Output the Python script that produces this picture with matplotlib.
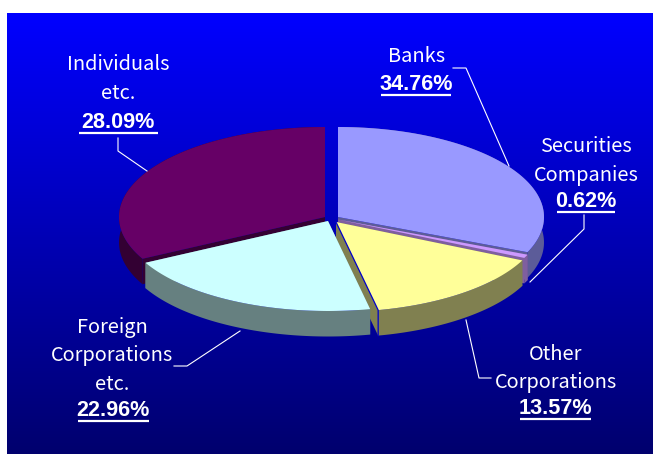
# shareholder breakdown, tilted 3d pie

import matplotlib
matplotlib.use("Agg")
import matplotlib.pyplot as plt
import numpy as np

names = ["Banks", "Securities\nCompanies", "Other\nCorporations", "Foreign\nCorporations\netc.", "Individuals\netc."]
percents = [34.76, 0.62, 13.57, 22.96, 28.09]
# slice sizes as the picture actually draws them, they do not follow the printed percents
drawn_shares = [31.4, 0.62, 14.7, 20.6, 32.68]

top_colors = ["#9999FF", "#CC99FF", "#FFFF99", "#CCFFFF", "#660066"]
side_colors = ["#5C5C99", "#7F5F9F", "#808050", "#668080", "#330033"]
# where each exploded slice has its tip, in picture pixels
tips = [(338, 217), (338, 219.5), (336, 222), (328, 221), (325, 217)]
draw_order = [4, 0, 1, 2, 3]

RX = 206
RY = 90
DEPTH = 25.5

# centre of the text block and of the percent line
label_xy = [(417, 57), (586, 147), (556, 354), (112, 327.5), (118, 65)]
percent_xy = [(416, 84), (586, 201.5), (555, 408), (113, 410), (118, 122.5)]
underline_w = [70, 58, 71, 71, 79]
line_gap = 28.5
leaders = [
    [(453, 68), (466, 68), (509, 166)],
    [(584, 215), (584, 229), (530, 282)],
    [(466, 320), (479, 378), (491, 378)],
    [(174, 366), (187, 366), (240, 331)],
    [(118, 138), (118, 151), (147, 171)],
]

plt.rcParams["font.family"] = ["Noto Sans CJK JP", "DejaVu Sans"]

fig = plt.figure(figsize=(6.53, 4.54), dpi=100)
ax = fig.add_axes([0, 0, 1, 1])

# background runs from blue down to navy
shade = np.linspace(0, 1, 256).reshape(-1, 1)
grad = np.zeros((256, 1, 3))
grad[:, :, 2] = 1.0 - 0.57 * shade
ax.imshow(grad, extent=(7, 653, 454, 13), aspect="auto", zorder=0)
ax.set_xlim(0, 653)
ax.set_ylim(454, 0)
ax.axis("off")


def rim(tip, a, b):
    t = np.radians(np.linspace(a, b, 80))
    return tip[0] + RX * np.sin(t), tip[1] - RY * np.cos(t)


edges = np.concatenate([[0], np.cumsum(drawn_shares)]) / sum(drawn_shares) * 360
z = 1
for i in draw_order:
    tip = tips[i]
    a, b = edges[i], edges[i + 1]
    x, y = rim(tip, a, b)
    # outer wall
    ax.fill(np.r_[x, x[::-1]], np.r_[y, y[::-1] + DEPTH], color=side_colors[i], lw=0, zorder=z)
    # both cut faces
    for xe, ye in ((x[0], y[0]), (x[-1], y[-1])):
        ax.fill([tip[0], xe, xe, tip[0]], [tip[1], ye, ye + DEPTH, tip[1] + DEPTH],
                color=side_colors[i], lw=0, zorder=z)
    # top
    ax.fill(np.r_[tip[0], x], np.r_[tip[1], y], color=top_colors[i], lw=0, zorder=z + 1)
    if i == 2:
        # blue edge on the near corner of this slice
        ax.plot([tip[0], x[-1], x[-1]], [tip[1], y[-1], y[-1] + DEPTH], color="#0000CC", lw=0.9, zorder=z + 1)
    z += 2

for pts in leaders:
    xs, ys = zip(*pts)
    ax.plot(xs, ys, color="white", lw=0.8, zorder=30)

for name, pct, lxy, pxy, uw in zip(names, percents, label_xy, percent_xy, underline_w):
    for k, line in enumerate(name.split("\n")):
        ax.text(lxy[0], lxy[1] + k * line_gap, line, color="white", fontsize=14.4, ha="center", va="center",
                zorder=31)
    ax.text(pxy[0], pxy[1], f"{pct:.2f}%", color="white", fontsize=15.6, fontweight="bold",
            family=["Liberation Sans Narrow", "Liberation Sans"], ha="center", va="center", zorder=31)
    ax.plot([pxy[0] - uw / 2, pxy[0] + uw / 2], [pxy[1] + 10.5, pxy[1] + 10.5], color="white", lw=1.6, zorder=31,
            solid_capstyle="butt")

fig.savefig("out.png", dpi=100, facecolor="white")
